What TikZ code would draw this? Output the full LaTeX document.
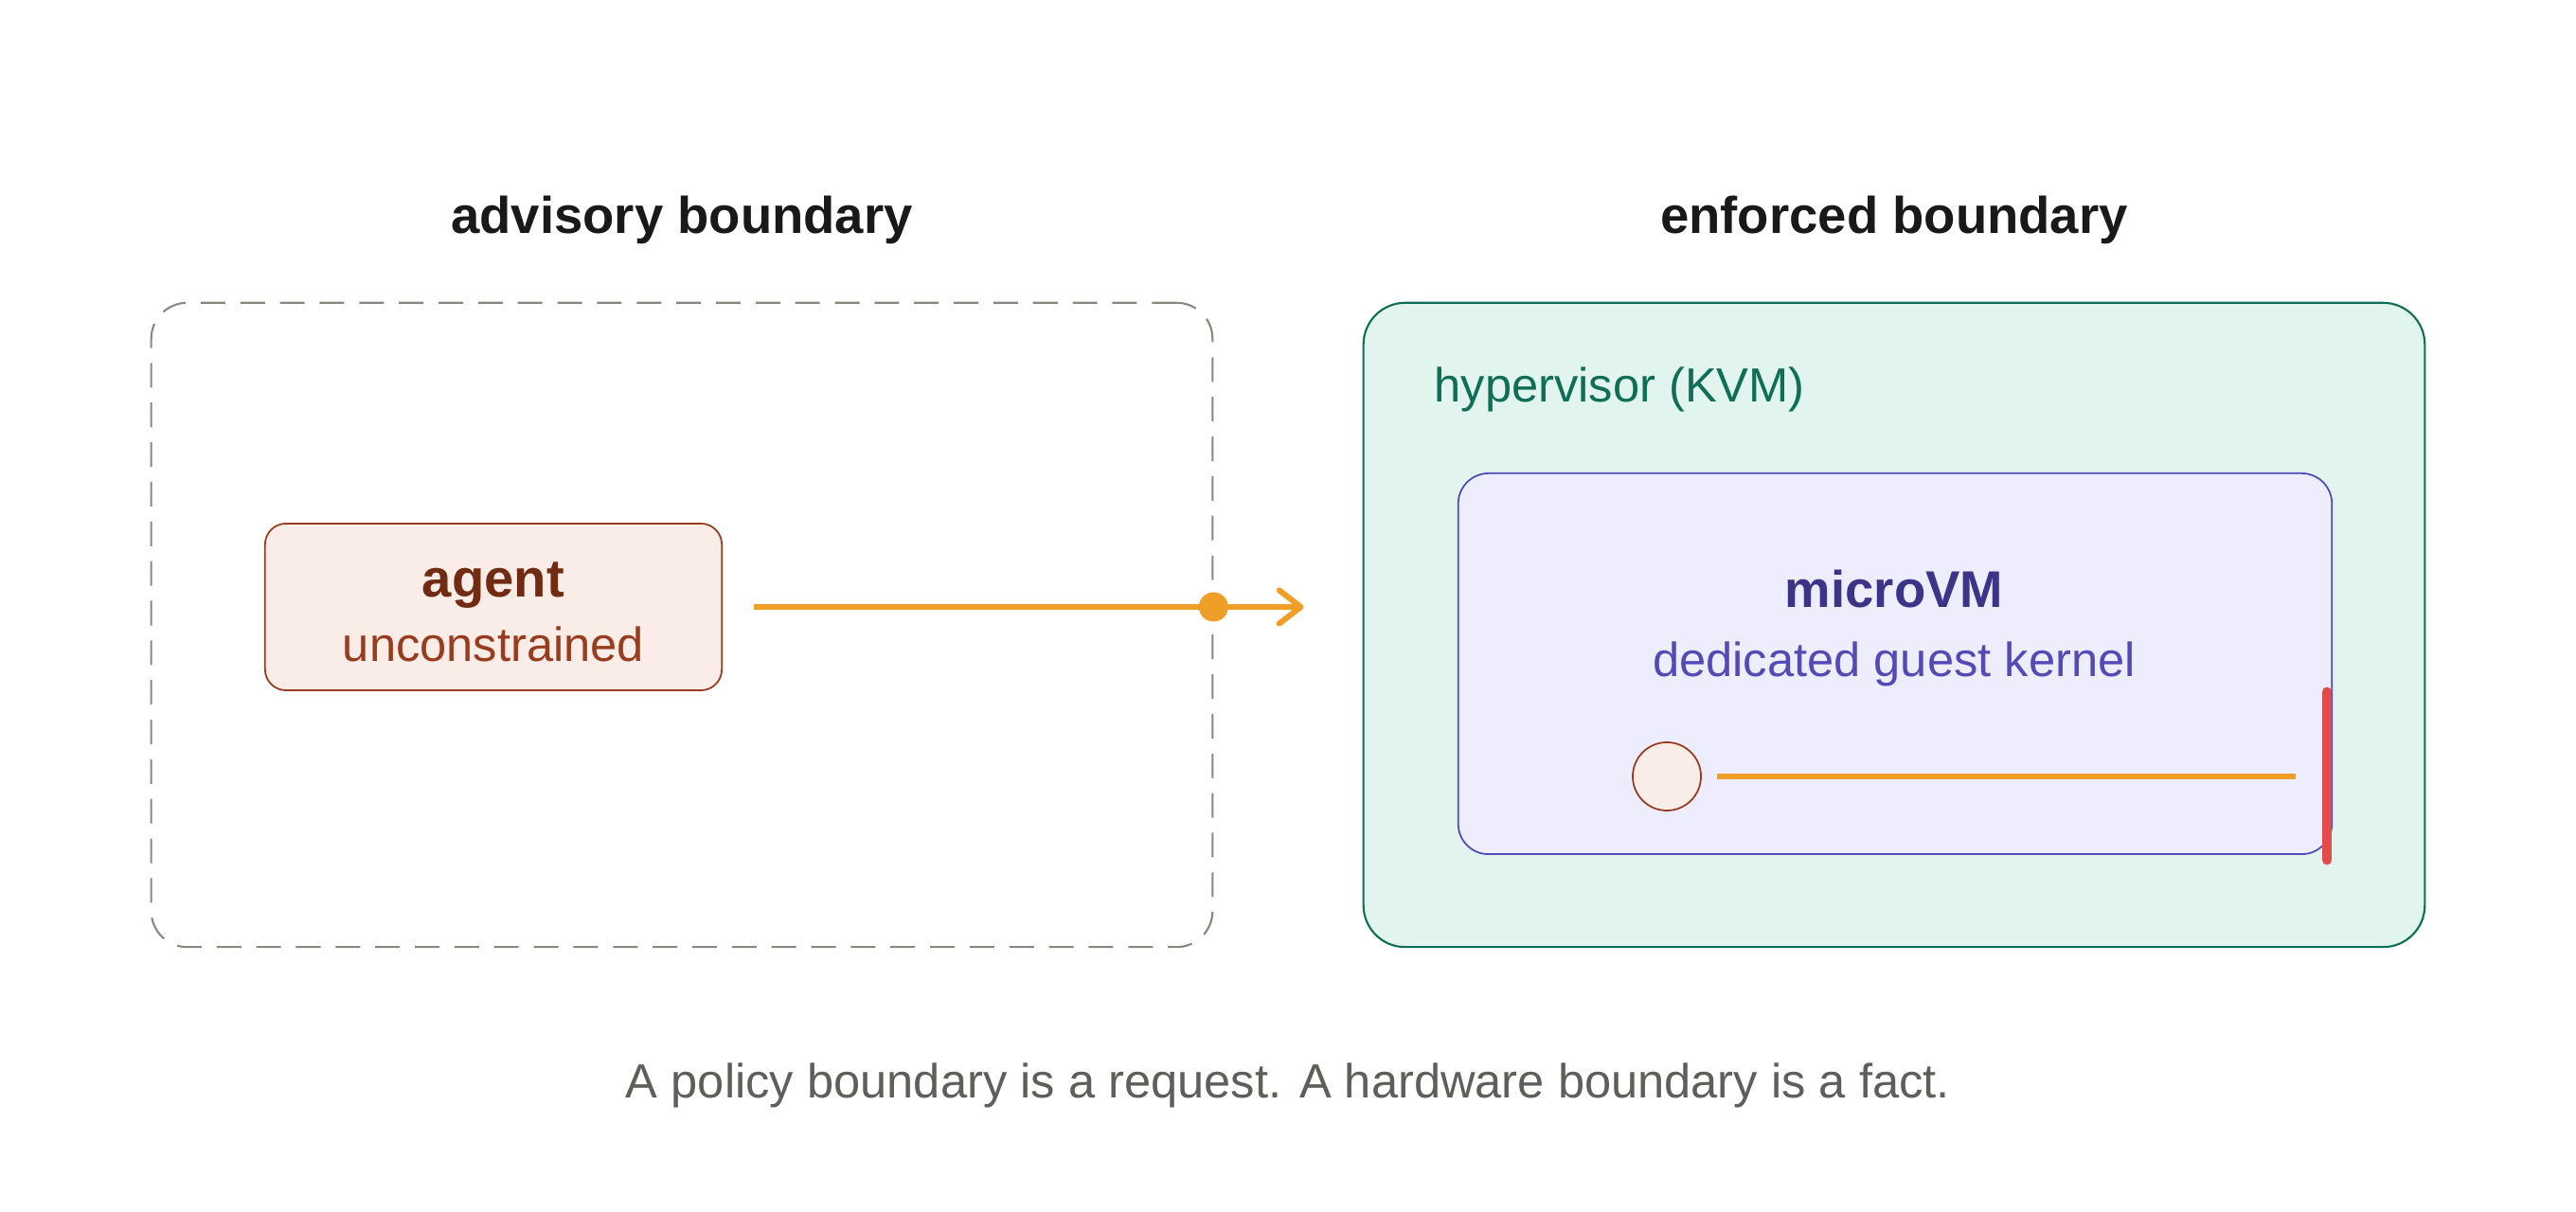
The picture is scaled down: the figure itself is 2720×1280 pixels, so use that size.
\documentclass[tikz,border=0pt]{standalone}
\usepackage{fontspec}
\setmainfont{Liberation Sans}
\usetikzlibrary{arrows.meta,positioning,calc}
\definecolor{dashgray}{HTML}{888780}
\definecolor{flowc}{HTML}{EF9F27}
\definecolor{agentfill}{HTML}{FAECE7}
\definecolor{agentline}{HTML}{993C1D}
\definecolor{agentdark}{HTML}{712B13}
\definecolor{hypfill}{HTML}{E1F5EE}
\definecolor{hypline}{HTML}{0F6E56}
\definecolor{vmfill}{HTML}{EEEDFE}
\definecolor{vmline}{HTML}{534AB7}
\definecolor{vmdark}{HTML}{3C3489}
\definecolor{wallc}{HTML}{E24B4A}
\definecolor{notec}{HTML}{5F5E5A}
\begin{document}
\begin{tikzpicture}[x=0.01cm, y=-0.01cm,
    zone/.style={rounded corners=0.38cm, minimum width=11.2cm, minimum height=6.8cm, inner sep=0pt, line width=0.6pt},
    box/.style={draw, rounded corners=0.22cm, inner sep=0pt, line width=0.5pt},
    head/.style={anchor=base, inner sep=0pt, font=\fontsize{15.5}{18}\selectfont\bfseries, text=black!90},
    txt/.style={anchor=base, inner sep=0pt, font=\fontsize{14.4}{17}\selectfont},
    bold/.style={anchor=base, inner sep=0pt, font=\fontsize{16}{19}\selectfont\bfseries},
    flow/.style={draw=flowc, line width=1.7pt, -{Straight Barb[length=6.5pt, width=10pt, round]}},
    track/.style={draw=flowc, line width=1.7pt},
    dot/.style={circle, fill=flowc, minimum size=0.31cm, inner sep=0pt},
    wall/.style={draw=wallc, line width=3.1pt, line cap=round}
]
\useasboundingbox (0,0) rectangle (2720,1280);

% left: policy only
\node[zone, draw=dashgray, dash pattern=on 7.4pt off 4.5pt] (adv) at (720,660) {};
\node[head] (advtitle) at (720,247) {advisory boundary};
\node[box, draw=agentline, fill=agentfill, minimum width=4.82cm, minimum height=1.76cm] (agent) at (521,641) {};
\node[bold, text=agentdark] (agentname) at (521,631) {agent};
\node[txt, text=agentline] (agentnote) at (521,699) {unconstrained};

% right: hardware
\node[zone, draw=hypline, fill=hypfill, rounded corners=0.44cm] (hyp) at (2000,660) {};
\node[head] (hyptitle) at (2000,247) {enforced boundary};
\node[txt, anchor=base west, text=hypline] (hypname) at (1514,425) {hypervisor (KVM)};
\node[box, draw=vmline, fill=vmfill, rounded corners=0.32cm, minimum width=9.22cm, minimum height=4.02cm] (vm) at (2001,701) {};
\node[bold, font=\fontsize{15.5}{18}\selectfont\bfseries, text=vmdark] (vmname) at (2000,642) {microVM};
\node[txt, text=vmline] (vmnote) at (2000,715) {dedicated guest kernel};
\node[circle, draw=agentline, fill=agentfill, line width=0.5pt, minimum size=0.72cm, inner sep=0pt] (guest) at (1760,820) {};
\coordinate (walltop) at (2457,731);
\coordinate (wallbot) at (2457,908);

% connectors
\draw[flow, shorten <=0.33cm, shorten >=0.62cm] (agent) -- (agent -| hyp.west);
\node[dot] (gate) at (agent -| adv.east) {};
\draw[track, shorten <=0.16cm, shorten >=0.33cm] (guest) -- (guest -| walltop);
\draw[wall] (walltop) -- (wallbot);

\node[txt, text=notec] (caption) at (1360,1160) {A policy boundary is a request. A hardware boundary is a fact.};
\end{tikzpicture}
\end{document}
